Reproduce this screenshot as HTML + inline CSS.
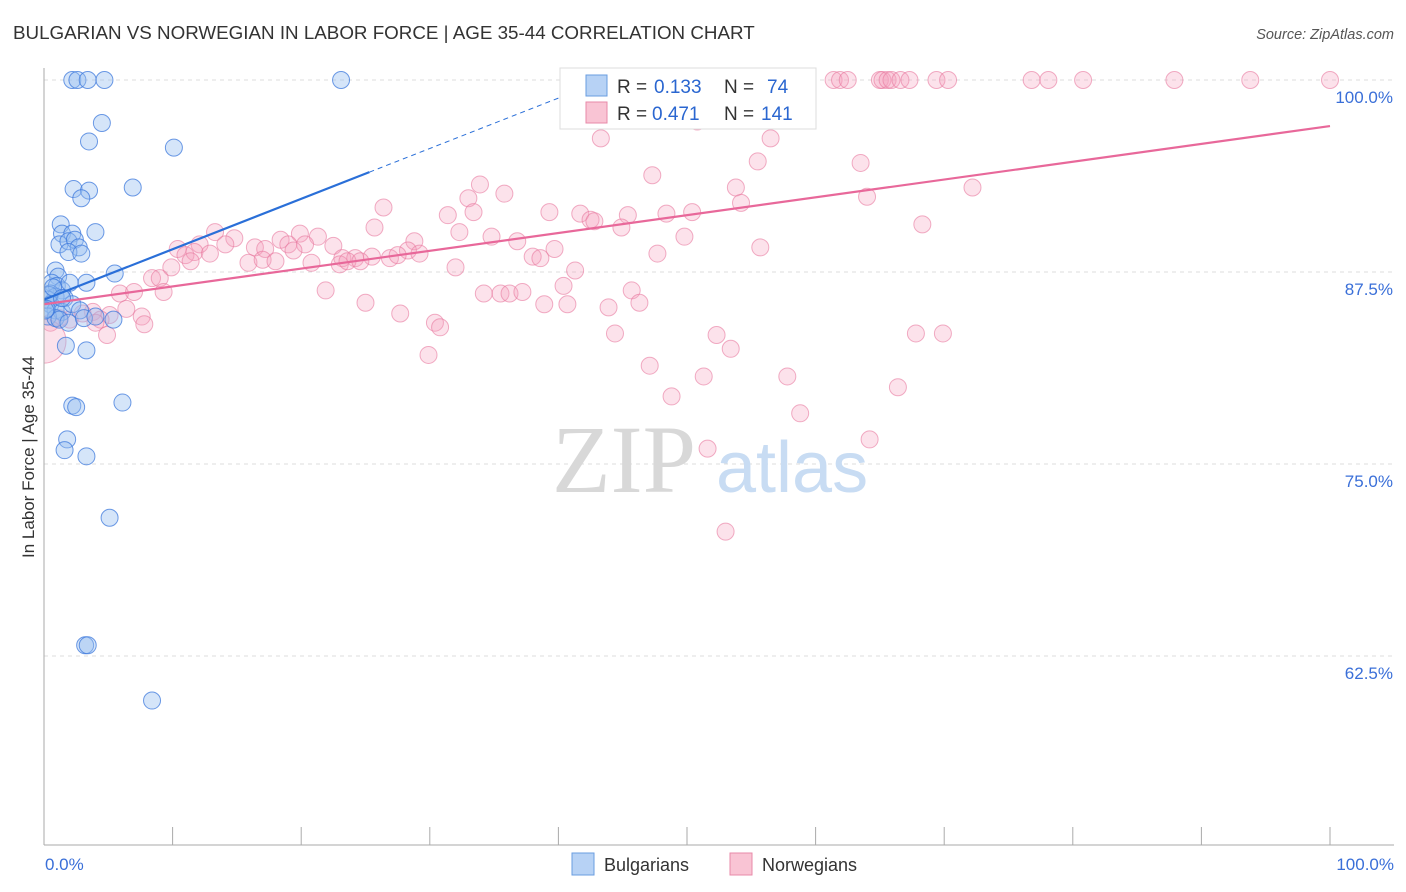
<!DOCTYPE html>
<html><head><meta charset="utf-8"><style>
body{margin:0;background:#fff;font-family:"Liberation Sans",sans-serif;}
svg{display:block}
</style></head><body>
<svg id="chart" width="1406" height="892" xmlns="http://www.w3.org/2000/svg">
<defs><clipPath id="plotclip"><rect x="44" y="60" width="1360" height="785"/></clipPath></defs>
<text x="13" y="39" font-size="18.8" fill="#333">BULGARIAN VS NORWEGIAN IN LABOR FORCE | AGE 35-44 CORRELATION CHART</text>
<text x="1394" y="39" font-size="14.5" fill="#555" font-style="italic" text-anchor="end">Source: ZipAtlas.com</text>
<text transform="translate(34,457) rotate(-90)" font-size="17" fill="#333" text-anchor="middle">In Labor Force | Age 35-44</text>
<g id="grid"></g>
<g>
<text x="552" y="492" font-family="Liberation Serif,serif" font-size="96" fill="#d8d8d8">ZIP</text>
<text x="716" y="492" font-size="72" fill="#c8dcf3">atlas</text>
</g>
<g id="pts" clip-path="url(#plotclip)"></g>
<g id="lines"></g>
<line x1="44" y1="68" x2="44" y2="845" stroke="#aaa"/>
<line x1="44" y1="845" x2="1394" y2="845" stroke="#aaa"/>
<g id="xticks"></g>
<text x="45" y="870" font-size="17" fill="#3a6fd8">0.0%</text>
<text x="1394" y="870" font-size="17" fill="#3a6fd8" text-anchor="end">100.0%</text>
<g>
<rect x="560" y="68" width="256" height="61" fill="#fff" stroke="#ddd"/>
<rect x="586" y="75" width="21" height="21" fill="#b7d2f5" stroke="#6a9de0"/>
<text x="617" y="93" font-size="19" fill="#333">R =</text>
<text x="654" y="93" font-size="19" fill="#2a66d0">0.133</text>
<text x="724" y="93" font-size="19" fill="#333">N =</text>
<text x="767" y="93" font-size="19" fill="#2a66d0">74</text>
<rect x="586" y="102" width="21" height="21" fill="#f9c4d4" stroke="#e88aa8"/>
<text x="617" y="120" font-size="19" fill="#333">R =</text>
<text x="652" y="120" font-size="19" fill="#2a66d0">0.471</text>
<text x="724" y="120" font-size="19" fill="#333">N =</text>
<text x="761" y="120" font-size="19" fill="#2a66d0">141</text>
</g>
<g>
<rect x="572" y="853" width="22" height="22" fill="#b7d2f5" stroke="#6a9de0"/>
<text x="604" y="871" font-size="18" fill="#333">Bulgarians</text>
<rect x="730" y="853" width="22" height="22" fill="#f9c4d4" stroke="#e88aa8"/>
<text x="762" y="871" font-size="18" fill="#333">Norwegians</text>
</g>
</svg>
<script>
const yTicks=[100,87.5,75,62.5];
const yTickLabels=["100.0%","87.5%","75.0%","62.5%"];
const xTicks=[0,10,20,30,40,50,60,70,80,90,100];
const blueX=[2.2,2.6,3.4,4.7,23.1,4.5,3.5,10.1,2.3,3.5,6.9,2.9,1.3,1.4,2.2,1.2,1.9,2.4,2.7,1.9,2.9,4.0,5.5,0.9,1.1,3.3,0.6,1.0,1.4,0.5,0.9,1.6,0.3,0.5,0.9,1.4,2.2,2.8,0.3,0.9,1.2,1.9,3.1,4.0,5.4,1.7,3.3,2.2,2.5,6.1,1.8,1.6,3.3,5.1,3.2,3.4,8.4,0.4,0.2,0.7,1.4,2.0,0.1];
const blueY=[100,100,100,100,100,97.2,96.0,95.6,92.9,92.8,93.0,92.3,90.6,90.0,90.0,89.3,89.5,89.6,89.1,88.8,88.7,90.1,87.4,87.6,87.2,86.8,86.8,86.6,86.3,86.1,85.9,85.8,85.7,85.4,85.0,84.9,85.4,85.0,84.6,84.5,84.4,84.2,84.5,84.6,84.4,82.7,82.4,78.8,78.7,79.0,76.6,75.9,75.5,71.5,63.2,63.2,59.6,86.0,85.1,86.5,85.8,86.8,85.0];
const pinkX=[50.8,58.0,58.2,61.4,61.9,62.5,65.0,65.2,65.6,65.9,66.6,67.3,69.4,70.3,76.8,78.1,80.8,87.9,93.8,100,50.8,43.3,56.5,55.5,63.5,47.3,33.9,53.8,72.2,33.0,35.8,64.0,26.4,54.2,31.4,33.4,39.3,41.7,42.5,42.8,45.4,48.4,50.4,68.3,25.7,13.3,32.3,44.9,19.9,21.3,34.8,49.8,14.8,18.4,36.8,12.1,19.0,20.3,22.5,28.8,10.4,14.1,16.4,17.2,19.4,39.7,55.7,28.3,11.0,11.7,12.9,15.9,17.0,18.0,23.2,23.0,24.2,25.5,26.9,27.5,29.2,38.0,38.6,47.7,11.4,20.8,23.6,24.6,32.0,9.9,41.3,8.4,9.0,40.4,45.7,5.9,7.0,9.3,21.9,34.2,35.5,36.2,37.2,25.0,38.9,40.7,43.9,46.3,6.4,3.8,5.1,27.7,7.6,4.4,7.8,2.0,30.4,30.8,4.9,44.4,52.3,67.8,69.9,53.4,29.9,47.1,57.8,51.3,66.4,48.8,58.8,64.2,51.6,53.0,0.5,1.2,3.0,4.0];
const pinkY=[100,100,100,100,100,100,100,100,100,100,100,100,100,100,100,100,100,100,100,100,97.3,96.2,96.2,94.7,94.6,93.8,93.2,93.0,93.0,92.3,92.6,92.4,91.7,92.0,91.2,91.4,91.4,91.3,90.9,90.8,91.2,91.3,91.4,90.6,90.4,90.1,90.1,90.4,90.0,89.8,89.8,89.8,89.7,89.6,89.5,89.3,89.3,89.3,89.2,89.5,89.0,89.3,89.1,89.0,88.9,89.0,89.1,88.9,88.6,88.8,88.7,88.1,88.3,88.2,88.4,88.0,88.4,88.5,88.4,88.6,88.7,88.5,88.4,88.7,88.2,88.1,88.2,88.2,87.8,87.8,87.6,87.1,87.1,86.6,86.3,86.1,86.2,86.2,86.3,86.1,86.1,86.1,86.2,85.5,85.4,85.4,85.2,85.5,85.1,84.9,84.7,84.8,84.6,84.4,84.1,84.4,84.2,83.9,83.4,83.5,83.4,83.5,83.5,82.5,82.1,81.4,80.7,80.7,80.0,79.4,78.3,76.6,76.0,70.6,84.2,84.5,84.8,84.2];
const bigPinkX=[0.0], bigPinkY=[83.0];
const blueTrend=[85.7,94.0,25.3];
const pinkTrend=[85.4,97.0];
const X=v=>44+v*12.86;
const Y=v=>80+(100-v)*15.36;
const NS="http://www.w3.org/2000/svg";
function mk(t,a,p){const e=document.createElementNS(NS,t);for(const k in a)e.setAttribute(k,a[k]);p.appendChild(e);return e;}
const grid=document.getElementById('grid');
yTicks.forEach((t,i)=>{
 const l=mk('line',{x1:44,x2:1394,y1:Y(t),y2:Y(t),stroke:'#ddd','stroke-dasharray':'4,4'},grid);
 
 
 const tx=mk('text',{x:1393,y:Y(t)+23,'font-size':17,fill:'#3a6fd8','text-anchor':'end'},grid);
 tx.textContent=yTickLabels[i];
 
 
});
const xt=document.getElementById('xticks');
xTicks.forEach(t=>{
 const l=mk('line',{x1:X(t),x2:X(t),y1:827,y2:845,stroke:'#aaa'},xt);
 
 
});
const pts=document.getElementById('pts');
pinkX.forEach((x,i)=>{
 const c=mk('circle',{cx:X(x),cy:Y(pinkY[i]),r:8.5,fill:'rgba(244,160,188,0.3)',stroke:'rgba(232,120,158,0.6)','stroke-width':1},pts);
 
 
});
bigPinkX.forEach((x,i)=>{
 const c=mk('circle',{cx:X(x),cy:Y(bigPinkY[i]),r:22,fill:'rgba(244,160,188,0.3)',stroke:'rgba(232,120,158,0.6)'},pts);
 
 
});
blueX.forEach((x,i)=>{
 const c=mk('circle',{cx:X(x),cy:Y(blueY[i]),r:8.5,fill:'rgba(150,190,240,0.4)',stroke:'rgba(60,120,220,0.75)','stroke-width':1},pts);
 
 
});
const ln=document.getElementById('lines');
const slope=(blueTrend[1]-blueTrend[0])/blueTrend[2];
const xEnd=(100-blueTrend[0])/slope;
let a=mk('line',{x1:X(0),y1:Y(blueTrend[0]),x2:X(blueTrend[2]),y2:Y(blueTrend[1]),stroke:'#2a6fd8','stroke-width':2.2},ln);


a=mk('line',{x1:X(blueTrend[2]),y1:Y(blueTrend[1]),x2:X(xEnd),y2:Y(100),stroke:'#2a6fd8','stroke-width':1,'stroke-dasharray':'5,4'},ln);


a=mk('line',{x1:X(0),y1:Y(pinkTrend[0]),x2:X(100),y2:Y(pinkTrend[1]),stroke:'#e8689a','stroke-width':2.2},ln);


</script>
</body></html>
